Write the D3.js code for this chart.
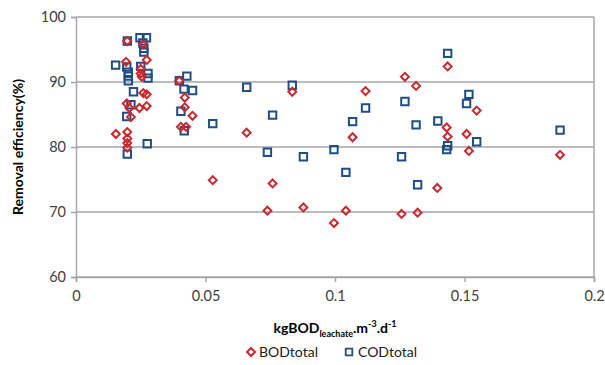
<!DOCTYPE html>
<html><head><meta charset="utf-8">
<script src="https://cdn.jsdelivr.net/npm/d3@7"></script>
<style>body{margin:0;background:#fff}svg{display:block}</style>
</head><body>
<svg id="c" width="605" height="365"></svg>
<script>
const xTicks = [0, 0.05, 0.1, 0.15, 0.2];
const yTicks = [60, 70, 80, 90, 100];
const bodX = [0.0154,0.0198,0.0193,0.0273,0.025,0.025,0.0254,0.026,0.026,0.0273,0.0196,0.0206,0.0245,0.0273,0.0212,0.0198,0.0198,0.0198,0.0198,0.0399,0.042,0.042,0.045,0.0405,0.0425,0.0528,0.0659,0.0739,0.0759,0.0835,0.0878,0.0996,0.1042,0.1068,0.1118,0.1257,0.127,0.1313,0.1319,0.1395,0.1431,0.1435,0.1435,0.1508,0.1517,0.1547,0.1869];
const bodY = [82.0,96.3,93.1,93.4,92.0,91.3,90.8,95.8,88.3,88.1,86.7,86.0,86.0,86.3,84.6,82.3,81.3,80.6,79.9,90.2,87.6,86.1,84.8,83.1,83.1,74.9,82.2,70.2,74.4,88.5,70.7,68.3,70.2,81.5,88.6,69.7,90.8,89.4,69.9,73.7,83.0,81.6,92.4,82.0,79.4,85.6,78.8];
const codX = [0.0153,0.0198,0.0247,0.0272,0.0258,0.0262,0.0262,0.0196,0.0202,0.0202,0.0202,0.025,0.0278,0.0278,0.0222,0.0212,0.0196,0.0275,0.0198,0.0399,0.0428,0.0417,0.045,0.0405,0.0418,0.0528,0.0659,0.0739,0.0759,0.0835,0.0878,0.0996,0.1042,0.1068,0.1118,0.1257,0.127,0.1313,0.1319,0.1397,0.1435,0.1435,0.1431,0.1508,0.1517,0.1547,0.1869];
const codY = [92.6,96.3,96.8,96.8,96.0,95.2,94.6,92.3,91.5,90.9,90.2,92.4,91.3,90.6,88.5,86.5,84.7,80.5,78.9,90.2,90.9,88.9,88.7,85.5,82.5,83.6,89.2,79.2,84.9,89.5,78.5,79.6,76.1,83.9,86.0,78.5,87.0,83.4,74.2,84.0,94.4,80.2,79.6,86.7,88.1,80.8,82.6];
const seriesNames = ["BODtotal", "CODtotal"];

const svg = d3.select("#c");
const font = "Lato, 'Open Sans', sans-serif";
const L = 76, R = 594, T = 17, B = 277;
const x = d3.scaleLinear().domain([0, 0.2]).range([L, R]);
const y = d3.scaleLinear().domain([60, 100]).range([B, T]);
const grid = "#a6a6a6", red = "#c8282e", blue = "#1f4e86";

// gridlines
svg.append("g").selectAll("line").data(yTicks).join("line")
  .attr("x1", L).attr("x2", R).attr("y1", d => y(d)).attr("y2", d => y(d))
  .attr("stroke", grid).attr("stroke-width", 1.5);
svg.append("line").attr("x1", R).attr("x2", R).attr("y1", T).attr("y2", B)
  .attr("stroke", grid).attr("stroke-width", 1.5);

// axes
const yAxis = svg.append("g").attr("transform", `translate(${L},0)`)
  .call(d3.axisLeft(y).tickValues(yTicks).tickSize(5).tickPadding(5).tickFormat(d3.format("d")));
const xAxis = svg.append("g").attr("transform", `translate(0,${B})`)
  .call(d3.axisBottom(x).tickValues(xTicks).tickSize(5).tickPadding(9).tickFormat(d => d === 0 ? "0" : String(d)));
[yAxis, xAxis].forEach(a => {
  a.select(".domain").attr("stroke", grid).attr("stroke-width", 1.5);
  a.selectAll(".tick line").attr("stroke", grid).attr("stroke-width", 1.5);
  a.selectAll("text").attr("fill", "#404040").style("font-family", font).style("font-size", "14.5px");
});

// markers
const diamond = d3.symbol().type(d3.symbolDiamond2).size(40);
const bod = bodX.map((v, i) => [v, bodY[i]]);
const cod = codX.map((v, i) => [v, codY[i]]);
svg.append("g").selectAll("path").data(cod).join("path")
  .attr("d", d3.symbol().type(d3.symbolSquare2).size(70))
  .attr("transform", d => `translate(${x(d[0])},${y(d[1])})`)
  .attr("fill", "none").attr("stroke", blue).attr("stroke-width", 2);
svg.append("g").selectAll("path").data(bod).join("path")
  .attr("d", diamond)
  .attr("transform", d => `translate(${x(d[0])},${y(d[1])})`)
  .attr("fill", "none").attr("stroke", red).attr("stroke-width", 2);

// axis titles
svg.append("text").attr("transform", `translate(23,${(T + B) / 2}) rotate(-90)`)
  .attr("text-anchor", "middle").style("font-family", font).style("font-weight", "bold")
  .style("font-size", "14px").attr("fill", "#000").text("Removal efficiency(%)");
const xt = svg.append("text").attr("x", 335).attr("y", 333).attr("text-anchor", "middle")
  .style("font-family", font).style("font-weight", "bold").style("font-size", "14px").attr("fill", "#000");
xt.append("tspan").text("kgBOD");
xt.append("tspan").attr("dy", 4).style("font-size", "9px").text("leachate");
xt.append("tspan").attr("dy", -4).text(".m");
xt.append("tspan").attr("dy", -6).style("font-size", "9px").text("-3");
xt.append("tspan").attr("dy", 6).text(".d");
xt.append("tspan").attr("dy", -6).style("font-size", "9px").text("-1");

// legend
const lg = svg.append("g");
lg.append("path").attr("d", diamond).attr("transform", "translate(251,352)")
  .attr("fill", "none").attr("stroke", red).attr("stroke-width", 2);
lg.append("text").attr("x", 259).attr("y", 357).style("font-family", font).style("font-size", "14px")
  .attr("fill", "#202020").text(seriesNames[0]);
lg.append("path").attr("d", d3.symbol().type(d3.symbolSquare2).size(55)).attr("transform", "translate(349,352)")
  .attr("fill", "none").attr("stroke", blue).attr("stroke-width", 1.8);
lg.append("text").attr("x", 358).attr("y", 357).style("font-family", font).style("font-size", "14px")
  .attr("fill", "#202020").text(seriesNames[1]);
</script>
</body></html>
